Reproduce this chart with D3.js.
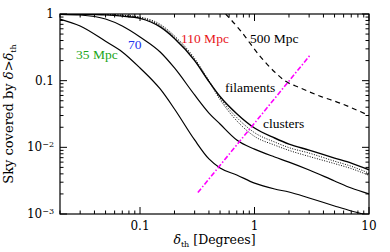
<!DOCTYPE html>
<html>
<head>
<meta charset="utf-8">
<script src="https://cdn.jsdelivr.net/npm/d3@7"></script>
<style>
  body { margin: 0; background: #fff; }
  svg text { font-family: "DejaVu Serif", serif; }
  svg text.note { font-family: "Liberation Serif", "Times New Roman", Times, serif; }
</style>
</head>
<body>
<script>
// x grid (degrees) shared by the main curves
const thetas = [0.02, 0.03, 0.05, 0.07, 0.1, 0.15, 0.2, 0.3, 0.4, 0.5, 0.7, 1, 1.5, 2, 3, 5, 7, 10];

const sky35 = [0.84, 0.66, 0.39, 0.27, 0.155, 0.075, 0.0376, 0.0129, 0.0067, 0.0049, 0.00385, 0.0029, 0.00237, 0.00214, 0.00174, 0.00132, 0.00111, 0.00095];
const sky70 = [0.99, 0.966, 0.84, 0.66, 0.452, 0.269, 0.155, 0.061, 0.0327, 0.0224, 0.0129, 0.0094, 0.00716, 0.006, 0.00457, 0.00313, 0.00245, 0.002];
const sky110 = [0.995, 0.99, 0.97, 0.93, 0.86, 0.64, 0.43, 0.2, 0.097, 0.058, 0.032, 0.0195, 0.0138, 0.0112, 0.0091, 0.0069, 0.0058, 0.0046];
const dottedA = [0.998, 0.995, 0.985, 0.96, 0.9, 0.7, 0.47, 0.215, 0.1, 0.055, 0.028, 0.0166, 0.012, 0.0099, 0.0082, 0.0062, 0.0052, 0.0041];
const dottedB = [0.998, 0.995, 0.98, 0.95, 0.88, 0.67, 0.45, 0.205, 0.097, 0.052, 0.025, 0.0146, 0.0108, 0.009, 0.0073, 0.0057, 0.0048, 0.0038];

// 500 Mpc curve has its own x points
const theta500 = [0.56, 0.75, 1.1, 1.5, 1.85, 2.5, 3.7, 5.6, 10];
const sky500 = [1.0, 0.57, 0.24, 0.135, 0.099, 0.078, 0.059, 0.046, 0.03];

// clusters/filaments divider
const divX = [0.32, 3.05];
const divY = [0.0021, 0.24];

const xTicks = [0.1, 1, 10];
const yTicks = [1, 0.1, 0.01, 0.001];

const margin = { top: 14, right: 21, bottom: 38, left: 60 },
    width = 390 - margin.left - margin.right,
    height = 252 - margin.top - margin.bottom;

const svg = d3.select("body")
    .append("svg")
    .attr("width", 390)
    .attr("height", 252);

const g = svg.append("g")
    .attr("transform", `translate(${margin.left},${margin.top})`);

const x = d3.scaleLog().domain([0.02, 10]).range([0, width]);
const y = d3.scaleLog().domain([0.001, 1]).range([height, 0]);

g.append("clipPath").attr("id", "clip")
    .append("rect").attr("width", width).attr("height", height);

const plot = g.append("g").attr("clip-path", "url(#clip)");

const line = d3.line()
    .x(d => x(d[0]))
    .y(d => y(d[1]));

const zip = (xs, ys) => xs.map((v, i) => [v, ys[i]]);

const curves = [
    { data: zip(thetas, sky35), dash: null, w: 1.2 },
    { data: zip(thetas, sky70), dash: null, w: 1.2 },
    { data: zip(thetas, dottedA), dash: "1,1.5", w: 1 },
    { data: zip(thetas, dottedB), dash: "1,1.5", w: 1 },
    { data: zip(thetas, sky110), dash: null, w: 1.4 },
    { data: zip(theta500, sky500), dash: "5,4", w: 1.2 }
];

curves.forEach(c => {
    plot.append("path")
        .datum(c.data)
        .attr("fill", "none")
        .attr("stroke", "#000")
        .attr("stroke-width", c.w)
        .attr("stroke-dasharray", c.dash)
        .attr("d", d3.line().curve(d3.curveMonotoneX).x(d => x(d[0])).y(d => y(d[1])));
});

plot.append("path")
    .datum(zip(divX, divY))
    .attr("fill", "none")
    .attr("stroke", "#ff00ff")
    .attr("stroke-width", 1.6)
    .attr("stroke-dasharray", "5,2,1.5,2")
    .attr("d", line);

// frame and ticks (inward on all sides)
const minorVals = (lo, hi) => {
    const out = [];
    for (let e = Math.floor(Math.log10(lo)); e <= Math.ceil(Math.log10(hi)); e++) {
        for (let m = 1; m < 10; m++) {
            const v = m * Math.pow(10, e);
            if (v >= lo * 0.999 && v <= hi * 1.001) out.push({ v, major: m === 1 });
        }
    }
    return out;
};

const xt = minorVals(0.02, 10);
const yt = minorVals(0.001, 1);

g.append("rect")
    .attr("width", width).attr("height", height)
    .attr("fill", "none").attr("stroke", "#000").attr("stroke-width", 1.2);

xt.forEach(t => {
    const len = t.major ? 7 : 3.5;
    const px = x(t.v);
    g.append("line").attr("x1", px).attr("x2", px).attr("y1", height).attr("y2", height - len)
        .attr("stroke", "#000");
    g.append("line").attr("x1", px).attr("x2", px).attr("y1", 0).attr("y2", len)
        .attr("stroke", "#000");
});
yt.forEach(t => {
    const len = t.major ? 7 : 3.5;
    const py = y(t.v);
    g.append("line").attr("y1", py).attr("y2", py).attr("x1", 0).attr("x2", len)
        .attr("stroke", "#000");
    g.append("line").attr("y1", py).attr("y2", py).attr("x1", width).attr("x2", width - len)
        .attr("stroke", "#000");
});

// tick labels
g.selectAll(".xl").data(xTicks).enter().append("text")
    .attr("x", d => x(d)).attr("y", height + 16)
    .attr("text-anchor", "middle")
    .style("font-size", "12px")
    .text(d => d);

yTicks.forEach(v => {
    const t = g.append("text")
        .attr("x", -6).attr("y", y(v) + 4)
        .attr("text-anchor", "end")
        .style("font-size", "12px");
    if (v >= 0.1) {
        t.text(v);
    } else {
        t.append("tspan").text("10");
        t.append("tspan").attr("dy", -4).style("font-size", "8px")
            .text("\u2212" + Math.round(-Math.log10(v)));
    }
});

// axis titles
const xl = g.append("text")
    .attr("x", width / 2).attr("y", height + 30)
    .attr("text-anchor", "middle")
    .style("font-size", "12.5px");
xl.append("tspan").style("font-style", "italic").text("\u03b4");
xl.append("tspan").attr("dy", 3).style("font-size", "8px").text("th");
xl.append("tspan").attr("dy", -3).text(" [Degrees]");

const yl = g.append("text")
    .attr("transform", `translate(${-margin.left + 13},${height / 2}) rotate(-90)`)
    .attr("text-anchor", "middle")
    .style("font-size", "13px");
yl.append("tspan").text("Sky covered by ");
yl.append("tspan").style("font-style", "italic").text("\u03b4");
yl.append("tspan").text(">");
yl.append("tspan").style("font-style", "italic").text("\u03b4");
yl.append("tspan").attr("dy", 3).style("font-size", "8px").text("th");

// annotations
const notes = [
    { t: "35 Mpc", px: 16, py: 45, c: "#1aa51a" },
    { t: "70", px: 68, py: 35, c: "#2233ee" },
    { t: "110 Mpc", px: 121, py: 29, c: "#e8141a" },
    { t: "500 Mpc", px: 190, py: 29, c: "#000" },
    { t: "filaments", px: 165, py: 78, c: "#000" },
    { t: "clusters", px: 203, py: 114, c: "#000" }
];
notes.forEach(n => {
    g.append("text")
        .attr("class", "note")
        .attr("x", n.px).attr("y", n.py)
        .style("font-size", "13.5px")
        .attr("fill", n.c)
        .text(n.t);
});
</script>
</body>
</html>
